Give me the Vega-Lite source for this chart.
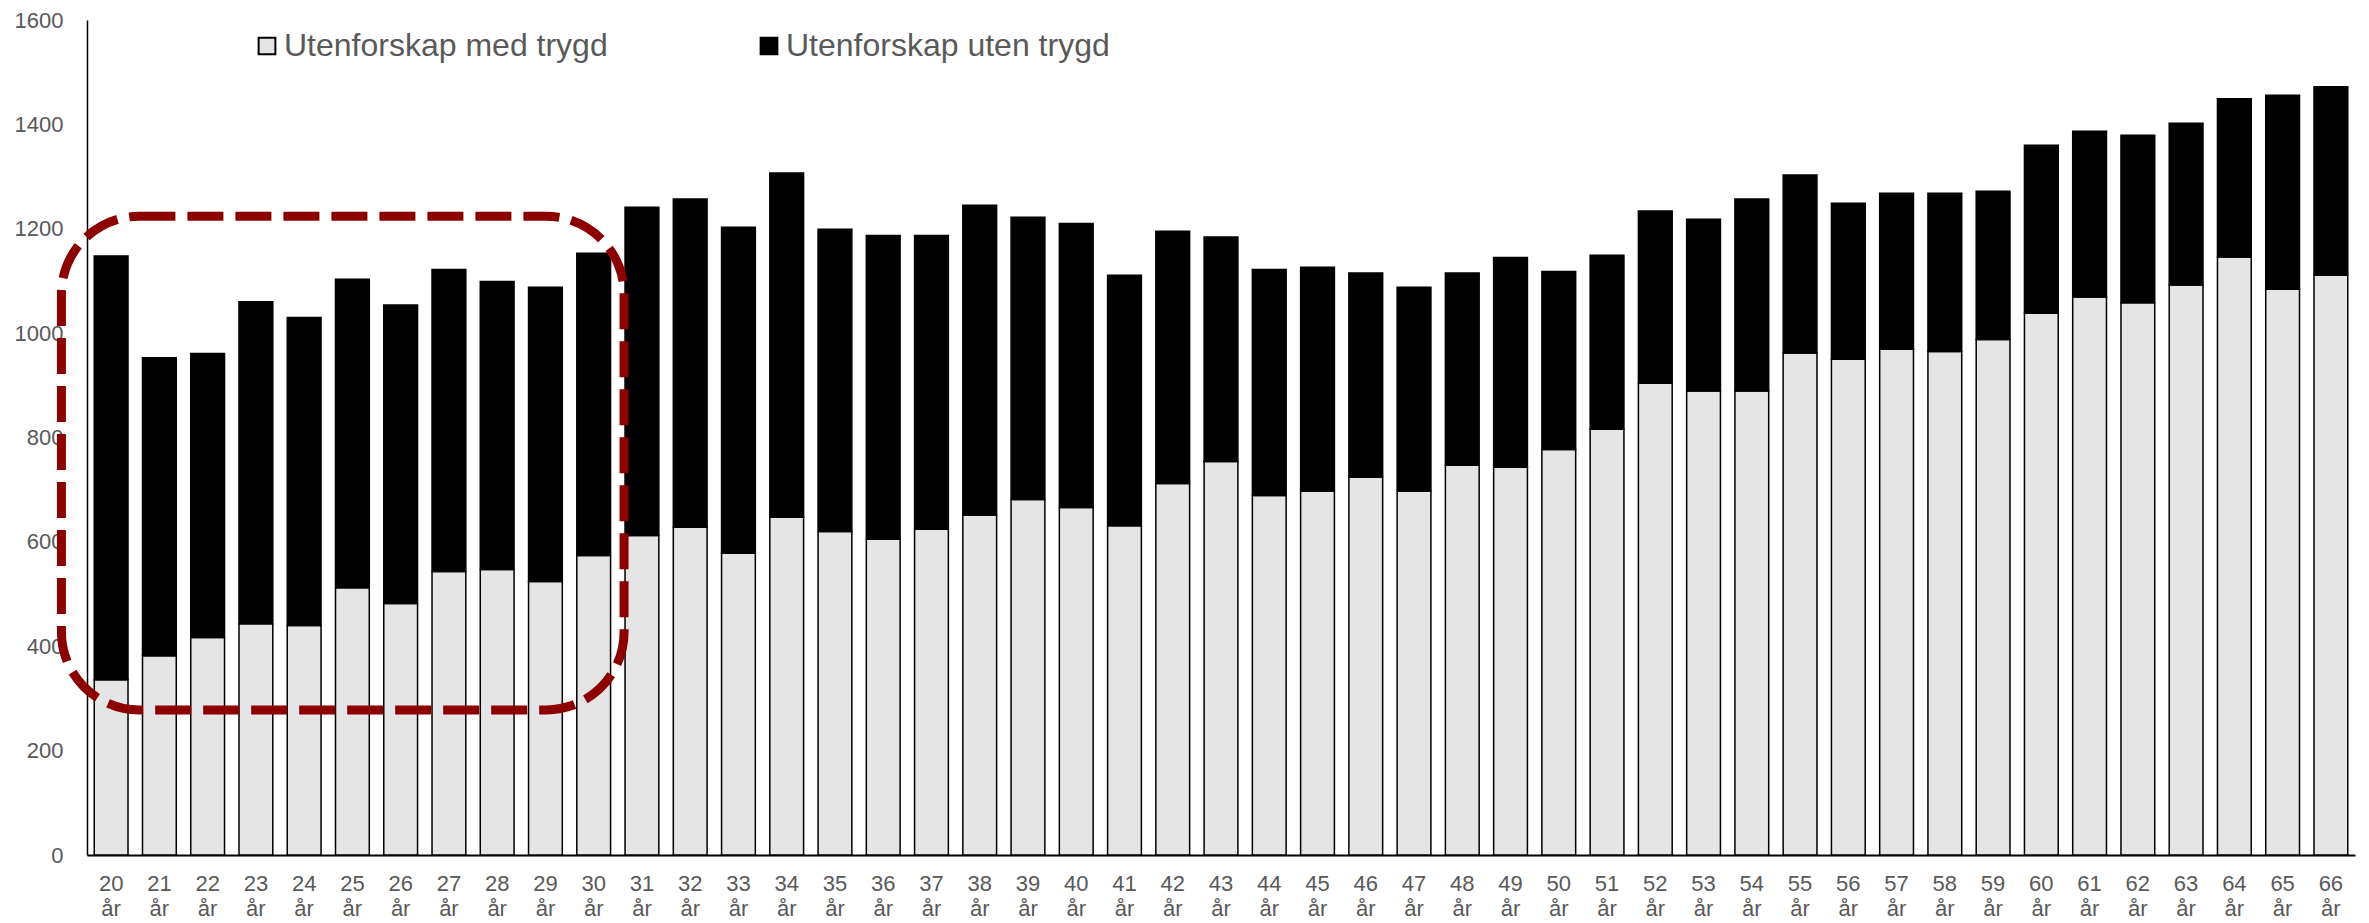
{
  "$schema": "https://vega.github.io/schema/vega-lite/v6.json",
  "autosize": "none",
  "padding": {"left": 87, "top": 20, "right": 14, "bottom": 68},
  "width": 2268,
  "height": 835,
  "background": "white",
  "config": {
    "view": {"stroke": null},
    "font": "Liberation Sans"
  },
  "datasets": {
    "bars": [
      {"alder": "20 år", "serie": "Utenforskap med trygd", "antall": 336},
      {"alder": "20 år", "serie": "Utenforskap uten trygd", "antall": 812},
      {"alder": "21 år", "serie": "Utenforskap med trygd", "antall": 382},
      {"alder": "21 år", "serie": "Utenforskap uten trygd", "antall": 571},
      {"alder": "22 år", "serie": "Utenforskap med trygd", "antall": 417},
      {"alder": "22 år", "serie": "Utenforskap uten trygd", "antall": 544},
      {"alder": "23 år", "serie": "Utenforskap med trygd", "antall": 443},
      {"alder": "23 år", "serie": "Utenforskap uten trygd", "antall": 617},
      {"alder": "24 år", "serie": "Utenforskap med trygd", "antall": 440},
      {"alder": "24 år", "serie": "Utenforskap uten trygd", "antall": 590},
      {"alder": "25 år", "serie": "Utenforskap med trygd", "antall": 512},
      {"alder": "25 år", "serie": "Utenforskap uten trygd", "antall": 591},
      {"alder": "26 år", "serie": "Utenforskap med trygd", "antall": 482},
      {"alder": "26 år", "serie": "Utenforskap uten trygd", "antall": 572},
      {"alder": "27 år", "serie": "Utenforskap med trygd", "antall": 543},
      {"alder": "27 år", "serie": "Utenforskap uten trygd", "antall": 579},
      {"alder": "28 år", "serie": "Utenforskap med trygd", "antall": 547},
      {"alder": "28 år", "serie": "Utenforskap uten trygd", "antall": 552},
      {"alder": "29 år", "serie": "Utenforskap med trygd", "antall": 524},
      {"alder": "29 år", "serie": "Utenforskap uten trygd", "antall": 564},
      {"alder": "30 år", "serie": "Utenforskap med trygd", "antall": 574},
      {"alder": "30 år", "serie": "Utenforskap uten trygd", "antall": 579},
      {"alder": "31 år", "serie": "Utenforskap med trygd", "antall": 612},
      {"alder": "31 år", "serie": "Utenforskap uten trygd", "antall": 629},
      {"alder": "32 år", "serie": "Utenforskap med trygd", "antall": 628},
      {"alder": "32 år", "serie": "Utenforskap uten trygd", "antall": 629},
      {"alder": "33 år", "serie": "Utenforskap med trygd", "antall": 578},
      {"alder": "33 år", "serie": "Utenforskap uten trygd", "antall": 625},
      {"alder": "34 år", "serie": "Utenforskap med trygd", "antall": 647},
      {"alder": "34 år", "serie": "Utenforskap uten trygd", "antall": 660},
      {"alder": "35 år", "serie": "Utenforskap med trygd", "antall": 620},
      {"alder": "35 år", "serie": "Utenforskap uten trygd", "antall": 579},
      {"alder": "36 år", "serie": "Utenforskap med trygd", "antall": 605},
      {"alder": "36 år", "serie": "Utenforskap uten trygd", "antall": 582},
      {"alder": "37 år", "serie": "Utenforskap med trygd", "antall": 624},
      {"alder": "37 år", "serie": "Utenforskap uten trygd", "antall": 563},
      {"alder": "38 år", "serie": "Utenforskap med trygd", "antall": 651},
      {"alder": "38 år", "serie": "Utenforskap uten trygd", "antall": 594},
      {"alder": "39 år", "serie": "Utenforskap med trygd", "antall": 681},
      {"alder": "39 år", "serie": "Utenforskap uten trygd", "antall": 541},
      {"alder": "40 år", "serie": "Utenforskap med trygd", "antall": 666},
      {"alder": "40 år", "serie": "Utenforskap uten trygd", "antall": 544},
      {"alder": "41 år", "serie": "Utenforskap med trygd", "antall": 631},
      {"alder": "41 år", "serie": "Utenforskap uten trygd", "antall": 480},
      {"alder": "42 år", "serie": "Utenforskap med trygd", "antall": 712},
      {"alder": "42 år", "serie": "Utenforskap uten trygd", "antall": 483},
      {"alder": "43 år", "serie": "Utenforskap med trygd", "antall": 754},
      {"alder": "43 år", "serie": "Utenforskap uten trygd", "antall": 430},
      {"alder": "44 år", "serie": "Utenforskap med trygd", "antall": 689},
      {"alder": "44 år", "serie": "Utenforskap uten trygd", "antall": 433},
      {"alder": "45 år", "serie": "Utenforskap med trygd", "antall": 697},
      {"alder": "45 år", "serie": "Utenforskap uten trygd", "antall": 429},
      {"alder": "46 år", "serie": "Utenforskap med trygd", "antall": 724},
      {"alder": "46 år", "serie": "Utenforskap uten trygd", "antall": 391},
      {"alder": "47 år", "serie": "Utenforskap med trygd", "antall": 697},
      {"alder": "47 år", "serie": "Utenforskap uten trygd", "antall": 391},
      {"alder": "48 år", "serie": "Utenforskap med trygd", "antall": 747},
      {"alder": "48 år", "serie": "Utenforskap uten trygd", "antall": 368},
      {"alder": "49 år", "serie": "Utenforskap med trygd", "antall": 743},
      {"alder": "49 år", "serie": "Utenforskap uten trygd", "antall": 402},
      {"alder": "50 år", "serie": "Utenforskap med trygd", "antall": 777},
      {"alder": "50 år", "serie": "Utenforskap uten trygd", "antall": 341},
      {"alder": "51 år", "serie": "Utenforskap med trygd", "antall": 816},
      {"alder": "51 år", "serie": "Utenforskap uten trygd", "antall": 333},
      {"alder": "52 år", "serie": "Utenforskap med trygd", "antall": 904},
      {"alder": "52 år", "serie": "Utenforskap uten trygd", "antall": 330},
      {"alder": "53 år", "serie": "Utenforskap med trygd", "antall": 889},
      {"alder": "53 år", "serie": "Utenforskap uten trygd", "antall": 329},
      {"alder": "54 år", "serie": "Utenforskap med trygd", "antall": 889},
      {"alder": "54 år", "serie": "Utenforskap uten trygd", "antall": 368},
      {"alder": "55 år", "serie": "Utenforskap med trygd", "antall": 962},
      {"alder": "55 år", "serie": "Utenforskap uten trygd", "antall": 341},
      {"alder": "56 år", "serie": "Utenforskap med trygd", "antall": 950},
      {"alder": "56 år", "serie": "Utenforskap uten trygd", "antall": 299},
      {"alder": "57 år", "serie": "Utenforskap med trygd", "antall": 969},
      {"alder": "57 år", "serie": "Utenforskap uten trygd", "antall": 299},
      {"alder": "58 år", "serie": "Utenforskap med trygd", "antall": 965},
      {"alder": "58 år", "serie": "Utenforskap uten trygd", "antall": 303},
      {"alder": "59 år", "serie": "Utenforskap med trygd", "antall": 988},
      {"alder": "59 år", "serie": "Utenforskap uten trygd", "antall": 284},
      {"alder": "60 år", "serie": "Utenforskap med trygd", "antall": 1038},
      {"alder": "60 år", "serie": "Utenforskap uten trygd", "antall": 322},
      {"alder": "61 år", "serie": "Utenforskap med trygd", "antall": 1069},
      {"alder": "61 år", "serie": "Utenforskap uten trygd", "antall": 318},
      {"alder": "62 år", "serie": "Utenforskap med trygd", "antall": 1058},
      {"alder": "62 år", "serie": "Utenforskap uten trygd", "antall": 321},
      {"alder": "63 år", "serie": "Utenforskap med trygd", "antall": 1092},
      {"alder": "63 år", "serie": "Utenforskap uten trygd", "antall": 310},
      {"alder": "64 år", "serie": "Utenforskap med trygd", "antall": 1146},
      {"alder": "64 år", "serie": "Utenforskap uten trygd", "antall": 303},
      {"alder": "65 år", "serie": "Utenforskap med trygd", "antall": 1084},
      {"alder": "65 år", "serie": "Utenforskap uten trygd", "antall": 372},
      {"alder": "66 år", "serie": "Utenforskap med trygd", "antall": 1111},
      {"alder": "66 år", "serie": "Utenforskap uten trygd", "antall": 361}
    ],
    "markering": [
      {"fra": -0.53, "til": 11.13, "bunn": 278, "topp": 1224}
    ]
  },
  "layer": [
    {
      "data": {"name": "bars"},
      "mark": {"type": "bar", "stroke": "#000000", "strokeWidth": 1.5},
      "encoding": {
        "x": {
          "field": "alder",
          "type": "nominal",
          "sort": null,
          "scale": {"paddingInner": 0.3, "paddingOuter": 0.15},
          "axis": {
            "title": null,
            "labelAngle": 0,
            "labelExpr": "split(datum.label, ' ')",
            "labelFontSize": 22,
            "labelLineHeight": 25,
            "labelColor": "#595959",
            "labelPadding": 18,
            "labelBaseline": "top",
            "ticks": false,
            "tickSize": 0,
            "domainColor": "#000000",
            "domainWidth": 2,
            "grid": false
          }
        },
        "y": {
          "field": "antall",
          "type": "quantitative",
          "stack": "zero",
          "scale": {"domain": [0, 1600], "nice": false},
          "axis": {
            "title": null,
            "values": [0, 200, 400, 600, 800, 1000, 1200, 1400, 1600],
            "format": "d",
            "labelFontSize": 22,
            "labelColor": "#595959",
            "labelPadding": 24,
            "ticks": false,
            "tickSize": 0,
            "domainColor": "#000000",
            "domainWidth": 1.5,
            "grid": false
          }
        },
        "color": {
          "field": "serie",
          "type": "nominal",
          "scale": {
            "domain": ["Utenforskap med trygd", "Utenforskap uten trygd"],
            "range": ["#E5E5E5", "#000000"]
          },
          "legend": {
            "title": null,
            "orient": "none",
            "direction": "horizontal",
            "legendX": 164,
            "legendY": 10,
            "symbolType": "square",
            "symbolSize": 280,
            "symbolStrokeColor": "#000000",
            "symbolStrokeWidth": 2,
            "labelFontSize": 32,
            "labelColor": "#595959",
            "labelOffset": 1,
            "columnPadding": 145,
            "labelLimit": 600
          }
        },
        "order": {"field": "serie", "sort": "ascending"}
      }
    },
    {
      "data": {"name": "markering"},
      "mark": {
        "type": "rect",
        "fill": "#ffffff",
        "fillOpacity": 0,
        "stroke": "#8C0000",
        "strokeWidth": 9,
        "strokeDash": [36, 12],
        "strokeCap": "butt",
        "cornerRadius": 78
      },
      "encoding": {
        "x": {
          "field": "fra",
          "type": "quantitative",
          "scale": {"domain": [0, 47], "nice": false, "zero": false},
          "axis": null
        },
        "x2": {"field": "til"},
        "y": {"field": "bunn", "type": "quantitative"},
        "y2": {"field": "topp"}
      }
    }
  ],
  "resolve": {"scale": {"x": "independent"}}
}
